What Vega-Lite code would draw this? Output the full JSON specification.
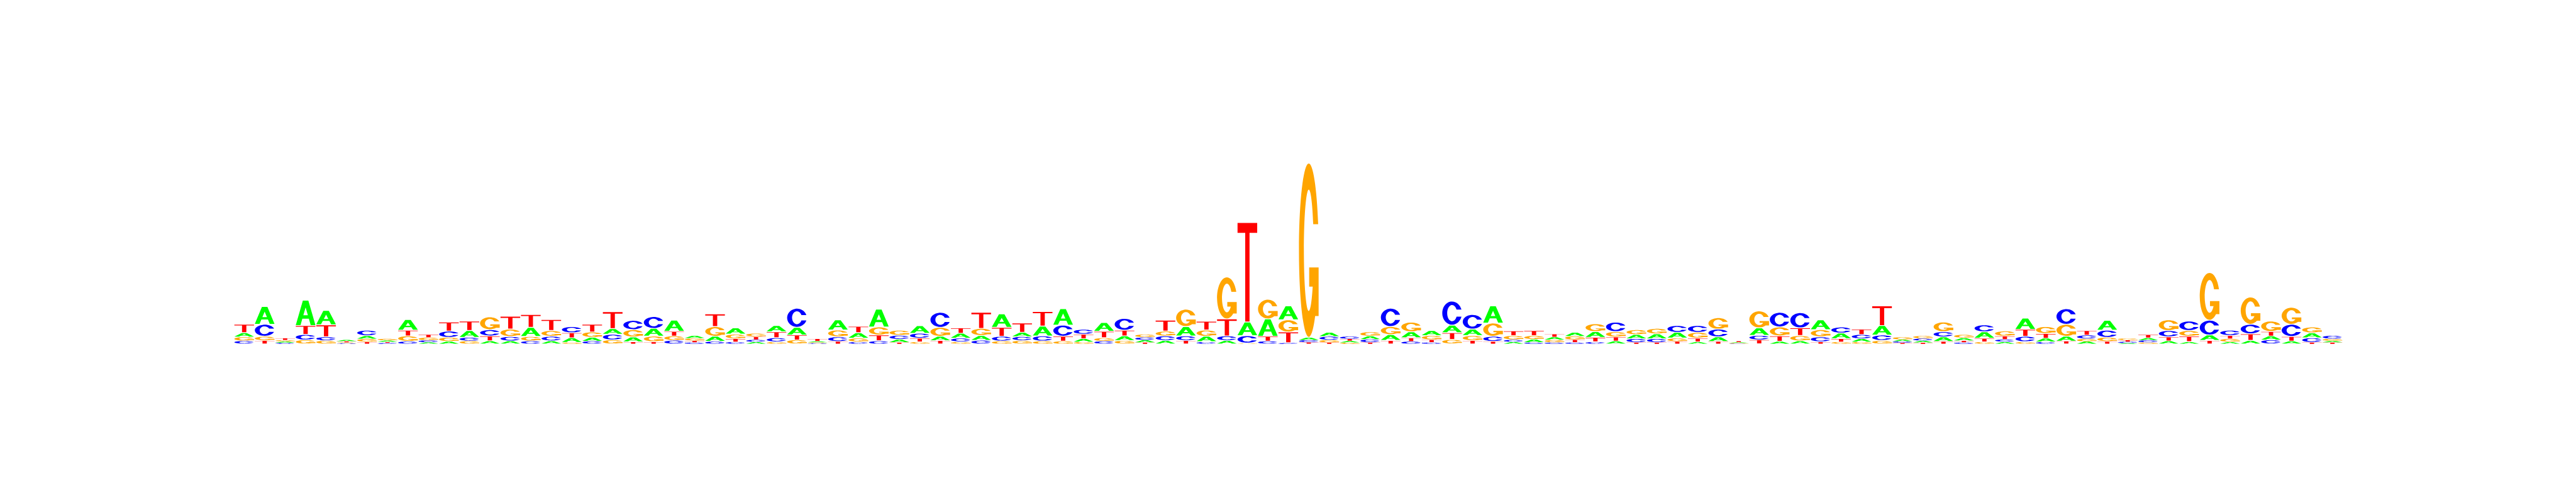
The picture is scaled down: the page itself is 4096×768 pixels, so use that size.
{
"$schema": "https://vega.github.io/schema/vega-lite/v6.json",
"width": 3353,
"height": 284,
"autosize": {"type": "none"},
"padding": {"left": 372, "top": 263, "right": 371, "bottom": 221},
"background": "white",
"config": {"view": {"stroke": null}},
"data": {"values": [
{"p":1,"b":"T","h":0.094},{"p":1,"b":"A","h":0.046},{"p":1,"b":"G","h":0.042},{"p":1,"b":"C","h":0.034},
{"p":2,"b":"A","h":0.2},{"p":2,"b":"C","h":0.134},{"p":2,"b":"G","h":0.046},{"p":2,"b":"T","h":0.036},
{"p":3,"b":"T","h":0.022},{"p":3,"b":"G","h":0.016},{"p":3,"b":"A","h":0.014},{"p":3,"b":"C","h":0.012},
{"p":4,"b":"A","h":0.284},{"p":4,"b":"T","h":0.1},{"p":4,"b":"C","h":0.06},{"p":4,"b":"G","h":0.042},
{"p":5,"b":"A","h":0.162},{"p":5,"b":"T","h":0.134},{"p":5,"b":"C","h":0.04},{"p":5,"b":"G","h":0.036},
{"p":6,"b":"A","h":0.016},{"p":6,"b":"T","h":0.012},{"p":6,"b":"G","h":0.01},{"p":6,"b":"C","h":0.008},
{"p":7,"b":"C","h":0.06},{"p":7,"b":"A","h":0.036},{"p":7,"b":"G","h":0.032},{"p":7,"b":"T","h":0.022},
{"p":8,"b":"G","h":0.02},{"p":8,"b":"A","h":0.016},{"p":8,"b":"T","h":0.012},{"p":8,"b":"C","h":0.01},
{"p":9,"b":"A","h":0.12},{"p":9,"b":"T","h":0.064},{"p":9,"b":"G","h":0.06},{"p":9,"b":"C","h":0.026},
{"p":10,"b":"T","h":0.034},{"p":10,"b":"G","h":0.03},{"p":10,"b":"C","h":0.022},{"p":10,"b":"A","h":0.018},
{"p":11,"b":"T","h":0.102},{"p":11,"b":"C","h":0.07},{"p":11,"b":"G","h":0.044},{"p":11,"b":"A","h":0.026},
{"p":12,"b":"T","h":0.106},{"p":12,"b":"A","h":0.076},{"p":12,"b":"C","h":0.038},{"p":12,"b":"G","h":0.032},
{"p":13,"b":"G","h":0.144},{"p":13,"b":"C","h":0.07},{"p":13,"b":"T","h":0.054},{"p":13,"b":"A","h":0.032},
{"p":14,"b":"T","h":0.144},{"p":14,"b":"G","h":0.082},{"p":14,"b":"C","h":0.048},{"p":14,"b":"A","h":0.032},
{"p":15,"b":"T","h":0.144},{"p":15,"b":"A","h":0.102},{"p":15,"b":"G","h":0.048},{"p":15,"b":"C","h":0.032},
{"p":16,"b":"T","h":0.124},{"p":16,"b":"G","h":0.064},{"p":16,"b":"C","h":0.05},{"p":16,"b":"A","h":0.032},
{"p":17,"b":"C","h":0.068},{"p":17,"b":"T","h":0.056},{"p":17,"b":"A","h":0.05},{"p":17,"b":"G","h":0.016},
{"p":18,"b":"T","h":0.086},{"p":18,"b":"G","h":0.06},{"p":18,"b":"A","h":0.04},{"p":18,"b":"C","h":0.03},
{"p":19,"b":"T","h":0.19},{"p":19,"b":"A","h":0.064},{"p":19,"b":"C","h":0.062},{"p":19,"b":"G","h":0.042},
{"p":20,"b":"C","h":0.104},{"p":20,"b":"G","h":0.082},{"p":20,"b":"A","h":0.052},{"p":20,"b":"T","h":0.022},
{"p":21,"b":"C","h":0.132},{"p":21,"b":"A","h":0.086},{"p":21,"b":"G","h":0.062},{"p":21,"b":"T","h":0.022},
{"p":22,"b":"A","h":0.124},{"p":22,"b":"T","h":0.052},{"p":22,"b":"G","h":0.048},{"p":22,"b":"C","h":0.038},
{"p":23,"b":"A","h":0.03},{"p":23,"b":"G","h":0.026},{"p":23,"b":"T","h":0.02},{"p":23,"b":"C","h":0.016},
{"p":24,"b":"T","h":0.142},{"p":24,"b":"G","h":0.108},{"p":24,"b":"A","h":0.056},{"p":24,"b":"C","h":0.026},
{"p":25,"b":"A","h":0.07},{"p":25,"b":"G","h":0.05},{"p":25,"b":"T","h":0.034},{"p":25,"b":"C","h":0.022},
{"p":26,"b":"G","h":0.036},{"p":26,"b":"T","h":0.034},{"p":26,"b":"C","h":0.024},{"p":26,"b":"A","h":0.022},
{"p":27,"b":"A","h":0.07},{"p":27,"b":"T","h":0.066},{"p":27,"b":"C","h":0.044},{"p":27,"b":"G","h":0.022},
{"p":28,"b":"C","h":0.214},{"p":28,"b":"A","h":0.086},{"p":28,"b":"T","h":0.054},{"p":28,"b":"G","h":0.042},
{"p":29,"b":"T","h":0.026},{"p":29,"b":"A","h":0.012},{"p":29,"b":"G","h":0.01},{"p":29,"b":"C","h":0.008},
{"p":30,"b":"A","h":0.114},{"p":30,"b":"G","h":0.076},{"p":30,"b":"C","h":0.05},{"p":30,"b":"T","h":0.026},
{"p":31,"b":"T","h":0.072},{"p":31,"b":"A","h":0.06},{"p":31,"b":"G","h":0.04},{"p":31,"b":"C","h":0.022},
{"p":32,"b":"A","h":0.2},{"p":32,"b":"G","h":0.09},{"p":32,"b":"T","h":0.064},{"p":32,"b":"C","h":0.032},
{"p":33,"b":"G","h":0.056},{"p":33,"b":"C","h":0.044},{"p":33,"b":"A","h":0.034},{"p":33,"b":"T","h":0.016},
{"p":34,"b":"A","h":0.084},{"p":34,"b":"C","h":0.054},{"p":34,"b":"T","h":0.04},{"p":34,"b":"G","h":0.022},
{"p":35,"b":"C","h":0.168},{"p":35,"b":"G","h":0.1},{"p":35,"b":"A","h":0.046},{"p":35,"b":"T","h":0.036},
{"p":36,"b":"T","h":0.06},{"p":36,"b":"A","h":0.054},{"p":36,"b":"C","h":0.04},{"p":36,"b":"G","h":0.022},
{"p":37,"b":"T","h":0.18},{"p":37,"b":"G","h":0.08},{"p":37,"b":"A","h":0.052},{"p":37,"b":"C","h":0.038},
{"p":38,"b":"A","h":0.15},{"p":38,"b":"T","h":0.1},{"p":38,"b":"C","h":0.052},{"p":38,"b":"G","h":0.03},
{"p":39,"b":"T","h":0.104},{"p":39,"b":"A","h":0.046},{"p":39,"b":"C","h":0.044},{"p":39,"b":"G","h":0.036},
{"p":40,"b":"T","h":0.164},{"p":40,"b":"A","h":0.11},{"p":40,"b":"C","h":0.056},{"p":40,"b":"G","h":0.03},
{"p":41,"b":"A","h":0.184},{"p":41,"b":"C","h":0.124},{"p":41,"b":"T","h":0.052},{"p":41,"b":"G","h":0.03},
{"p":42,"b":"C","h":0.054},{"p":42,"b":"T","h":0.05},{"p":42,"b":"A","h":0.034},{"p":42,"b":"G","h":0.022},
{"p":43,"b":"A","h":0.098},{"p":43,"b":"T","h":0.072},{"p":43,"b":"G","h":0.036},{"p":43,"b":"C","h":0.03},
{"p":44,"b":"C","h":0.132},{"p":44,"b":"T","h":0.064},{"p":44,"b":"A","h":0.05},{"p":44,"b":"G","h":0.036},
{"p":45,"b":"G","h":0.034},{"p":45,"b":"C","h":0.03},{"p":45,"b":"A","h":0.026},{"p":45,"b":"T","h":0.016},
{"p":46,"b":"T","h":0.122},{"p":46,"b":"G","h":0.054},{"p":46,"b":"C","h":0.05},{"p":46,"b":"A","h":0.036},
{"p":47,"b":"G","h":0.196},{"p":47,"b":"A","h":0.104},{"p":47,"b":"C","h":0.05},{"p":47,"b":"T","h":0.036},
{"p":48,"b":"T","h":0.098},{"p":48,"b":"G","h":0.07},{"p":48,"b":"A","h":0.06},{"p":48,"b":"C","h":0.022},
{"p":49,"b":"G","h":0.47},{"p":49,"b":"T","h":0.19},{"p":49,"b":"C","h":0.05},{"p":49,"b":"A","h":0.036},
{"p":50,"b":"T","h":1.114},{"p":50,"b":"A","h":0.154},{"p":50,"b":"C","h":0.082},{"p":50,"b":"G","h":0.006},
{"p":51,"b":"G","h":0.22},{"p":51,"b":"A","h":0.194},{"p":51,"b":"T","h":0.052},{"p":51,"b":"C","h":0.03},
{"p":52,"b":"A","h":0.156},{"p":52,"b":"G","h":0.136},{"p":52,"b":"T","h":0.12},{"p":52,"b":"C","h":0.01},
{"p":53,"b":"G","h":1.952},{"p":53,"b":"A","h":0.028},{"p":53,"b":"C","h":0.024},{"p":53,"b":"T","h":0.018},
{"p":54,"b":"A","h":0.044},{"p":54,"b":"C","h":0.04},{"p":54,"b":"G","h":0.026},{"p":54,"b":"T","h":0.016},
{"p":55,"b":"C","h":0.026},{"p":55,"b":"T","h":0.022},{"p":55,"b":"A","h":0.02},{"p":55,"b":"G","h":0.014},
{"p":56,"b":"G","h":0.046},{"p":56,"b":"A","h":0.036},{"p":56,"b":"C","h":0.034},{"p":56,"b":"T","h":0.016},
{"p":57,"b":"C","h":0.206},{"p":57,"b":"G","h":0.09},{"p":57,"b":"A","h":0.064},{"p":57,"b":"T","h":0.036},
{"p":58,"b":"G","h":0.108},{"p":58,"b":"A","h":0.066},{"p":58,"b":"T","h":0.04},{"p":58,"b":"C","h":0.026},
{"p":59,"b":"A","h":0.056},{"p":59,"b":"G","h":0.044},{"p":59,"b":"T","h":0.03},{"p":59,"b":"C","h":0.016},
{"p":60,"b":"C","h":0.27},{"p":60,"b":"A","h":0.084},{"p":60,"b":"T","h":0.076},{"p":60,"b":"G","h":0.046},
{"p":61,"b":"C","h":0.164},{"p":61,"b":"A","h":0.072},{"p":61,"b":"G","h":0.054},{"p":61,"b":"T","h":0.036},
{"p":62,"b":"A","h":0.192},{"p":62,"b":"G","h":0.148},{"p":62,"b":"C","h":0.056},{"p":62,"b":"T","h":0.026},
{"p":63,"b":"T","h":0.052},{"p":63,"b":"G","h":0.044},{"p":63,"b":"C","h":0.024},{"p":63,"b":"A","h":0.022},
{"p":64,"b":"T","h":0.056},{"p":64,"b":"G","h":0.04},{"p":64,"b":"A","h":0.034},{"p":64,"b":"C","h":0.016},
{"p":65,"b":"T","h":0.034},{"p":65,"b":"A","h":0.032},{"p":65,"b":"G","h":0.028},{"p":65,"b":"C","h":0.016},
{"p":66,"b":"A","h":0.042},{"p":66,"b":"G","h":0.038},{"p":66,"b":"T","h":0.03},{"p":66,"b":"C","h":0.016},
{"p":67,"b":"G","h":0.088},{"p":67,"b":"A","h":0.064},{"p":67,"b":"T","h":0.048},{"p":67,"b":"C","h":0.022},
{"p":68,"b":"C","h":0.106},{"p":68,"b":"G","h":0.058},{"p":68,"b":"T","h":0.046},{"p":68,"b":"A","h":0.03},
{"p":69,"b":"G","h":0.054},{"p":69,"b":"A","h":0.046},{"p":69,"b":"C","h":0.04},{"p":69,"b":"T","h":0.016},
{"p":70,"b":"G","h":0.06},{"p":70,"b":"A","h":0.054},{"p":70,"b":"C","h":0.04},{"p":70,"b":"T","h":0.016},
{"p":71,"b":"C","h":0.076},{"p":71,"b":"A","h":0.064},{"p":71,"b":"G","h":0.036},{"p":71,"b":"T","h":0.026},
{"p":72,"b":"C","h":0.076},{"p":72,"b":"G","h":0.064},{"p":72,"b":"T","h":0.04},{"p":72,"b":"A","h":0.022},
{"p":73,"b":"G","h":0.128},{"p":73,"b":"C","h":0.086},{"p":73,"b":"A","h":0.05},{"p":73,"b":"T","h":0.026},
{"p":74,"b":"T","h":0.012},{"p":74,"b":"A","h":0.01},{"p":74,"b":"G","h":0.006},{"p":74,"b":"C","h":0.004},
{"p":75,"b":"G","h":0.19},{"p":75,"b":"A","h":0.084},{"p":75,"b":"C","h":0.048},{"p":75,"b":"T","h":0.044},
{"p":76,"b":"C","h":0.164},{"p":76,"b":"G","h":0.1},{"p":76,"b":"T","h":0.06},{"p":76,"b":"A","h":0.026},
{"p":77,"b":"C","h":0.17},{"p":77,"b":"T","h":0.086},{"p":77,"b":"G","h":0.058},{"p":77,"b":"A","h":0.032},
{"p":78,"b":"A","h":0.11},{"p":78,"b":"G","h":0.08},{"p":78,"b":"C","h":0.054},{"p":78,"b":"T","h":0.022},
{"p":79,"b":"C","h":0.068},{"p":79,"b":"A","h":0.062},{"p":79,"b":"T","h":0.034},{"p":79,"b":"G","h":0.022},
{"p":80,"b":"T","h":0.06},{"p":80,"b":"C","h":0.046},{"p":80,"b":"A","h":0.034},{"p":80,"b":"G","h":0.022},
{"p":81,"b":"T","h":0.22},{"p":81,"b":"A","h":0.106},{"p":81,"b":"C","h":0.06},{"p":81,"b":"G","h":0.036},
{"p":82,"b":"G","h":0.028},{"p":82,"b":"A","h":0.02},{"p":82,"b":"C","h":0.016},{"p":82,"b":"T","h":0.012},
{"p":83,"b":"G","h":0.03},{"p":83,"b":"C","h":0.024},{"p":83,"b":"A","h":0.022},{"p":83,"b":"T","h":0.014},
{"p":84,"b":"G","h":0.108},{"p":84,"b":"C","h":0.058},{"p":84,"b":"A","h":0.05},{"p":84,"b":"T","h":0.026},
{"p":85,"b":"G","h":0.036},{"p":85,"b":"A","h":0.03},{"p":85,"b":"T","h":0.02},{"p":85,"b":"C","h":0.016},
{"p":86,"b":"C","h":0.078},{"p":86,"b":"A","h":0.072},{"p":86,"b":"T","h":0.038},{"p":86,"b":"G","h":0.022},
{"p":87,"b":"G","h":0.056},{"p":87,"b":"T","h":0.036},{"p":87,"b":"C","h":0.028},{"p":87,"b":"A","h":0.022},
{"p":88,"b":"A","h":0.126},{"p":88,"b":"T","h":0.078},{"p":88,"b":"C","h":0.06},{"p":88,"b":"G","h":0.022},
{"p":89,"b":"G","h":0.078},{"p":89,"b":"T","h":0.05},{"p":89,"b":"A","h":0.04},{"p":89,"b":"C","h":0.022},
{"p":90,"b":"C","h":0.174},{"p":90,"b":"G","h":0.134},{"p":90,"b":"A","h":0.052},{"p":90,"b":"T","h":0.03},
{"p":91,"b":"T","h":0.05},{"p":91,"b":"C","h":0.04},{"p":91,"b":"G","h":0.03},{"p":91,"b":"A","h":0.026},
{"p":92,"b":"A","h":0.11},{"p":92,"b":"C","h":0.08},{"p":92,"b":"G","h":0.044},{"p":92,"b":"T","h":0.026},
{"p":93,"b":"G","h":0.02},{"p":93,"b":"T","h":0.018},{"p":93,"b":"C","h":0.014},{"p":93,"b":"A","h":0.01},
{"p":94,"b":"T","h":0.036},{"p":94,"b":"A","h":0.026},{"p":94,"b":"C","h":0.024},{"p":94,"b":"G","h":0.016},
{"p":95,"b":"G","h":0.12},{"p":95,"b":"C","h":0.07},{"p":95,"b":"T","h":0.044},{"p":95,"b":"A","h":0.032},
{"p":96,"b":"C","h":0.106},{"p":96,"b":"G","h":0.064},{"p":96,"b":"T","h":0.06},{"p":96,"b":"A","h":0.022},
{"p":97,"b":"G","h":0.534},{"p":97,"b":"C","h":0.166},{"p":97,"b":"A","h":0.06},{"p":97,"b":"T","h":0.036},
{"p":98,"b":"C","h":0.058},{"p":98,"b":"T","h":0.036},{"p":98,"b":"G","h":0.034},{"p":98,"b":"A","h":0.022},
{"p":99,"b":"G","h":0.306},{"p":99,"b":"C","h":0.106},{"p":99,"b":"T","h":0.074},{"p":99,"b":"A","h":0.036},
{"p":100,"b":"G","h":0.116},{"p":100,"b":"T","h":0.05},{"p":100,"b":"A","h":0.044},{"p":100,"b":"C","h":0.042},
{"p":101,"b":"G","h":0.19},{"p":101,"b":"C","h":0.136},{"p":101,"b":"T","h":0.05},{"p":101,"b":"A","h":0.03},
{"p":102,"b":"G","h":0.066},{"p":102,"b":"A","h":0.054},{"p":102,"b":"C","h":0.05},{"p":102,"b":"T","h":0.016},
{"p":103,"b":"C","h":0.036},{"p":103,"b":"G","h":0.022},{"p":103,"b":"A","h":0.018},{"p":103,"b":"T","h":0.016}
]},
"transform": [
{"stack": "h", "groupby": ["p"], "sort": [{"field": "h", "order": "ascending"}], "as": ["y0", "y1"]}
],
"encoding": {
"x": {"field": "p", "type": "quantitative", "scale": {"domain": [0.5, 103.5], "nice": false, "zero": false}, "axis": null},
"y": {"field": "y1", "type": "quantitative", "scale": {"domain": [0, 2], "nice": false, "zero": false}, "axis": null}
},
"layer": [
{"transform": [{"filter": "datum.b == 'T'"}],
 "mark": {"type": "point", "filled": true, "opacity": 1, "color": "#FF0000",
  "size": {"expr": "4*pow(0.96*(scale('x',1)-scale('x',0)),2)"},
  "shape": {"expr": "'M-0.5,0H0.5V'+(0.1*(max(scale('y',datum.y0)-scale('y',datum.y1)-1.4,0.85*(scale('y',datum.y0)-scale('y',datum.y1)))/(0.96*(scale('x',1)-scale('x',0)))))+'H0.11V'+(max(scale('y',datum.y0)-scale('y',datum.y1)-1.4,0.85*(scale('y',datum.y0)-scale('y',datum.y1)))/(0.96*(scale('x',1)-scale('x',0))))+'H-0.11V'+(0.1*(max(scale('y',datum.y0)-scale('y',datum.y1)-1.4,0.85*(scale('y',datum.y0)-scale('y',datum.y1)))/(0.96*(scale('x',1)-scale('x',0)))))+'H-0.5Z'"}}},
{"transform": [{"filter": "datum.b == 'A'"}],
 "mark": {"type": "point", "filled": true, "opacity": 1, "color": "#00FF00",
  "size": {"expr": "4*pow(0.96*(scale('x',1)-scale('x',0)),2)"},
  "shape": {"expr": "'M-0.5,'+(max(scale('y',datum.y0)-scale('y',datum.y1)-1.4,0.85*(scale('y',datum.y0)-scale('y',datum.y1)))/(0.96*(scale('x',1)-scale('x',0))))+'L-0.14,0H0.14L0.5,'+(max(scale('y',datum.y0)-scale('y',datum.y1)-1.4,0.85*(scale('y',datum.y0)-scale('y',datum.y1)))/(0.96*(scale('x',1)-scale('x',0))))+'H0.26L0.166,'+(0.74*(max(scale('y',datum.y0)-scale('y',datum.y1)-1.4,0.85*(scale('y',datum.y0)-scale('y',datum.y1)))/(0.96*(scale('x',1)-scale('x',0)))))+'H-0.166L-0.26,'+(max(scale('y',datum.y0)-scale('y',datum.y1)-1.4,0.85*(scale('y',datum.y0)-scale('y',datum.y1)))/(0.96*(scale('x',1)-scale('x',0))))+'ZM-0.116,'+(0.6*(max(scale('y',datum.y0)-scale('y',datum.y1)-1.4,0.85*(scale('y',datum.y0)-scale('y',datum.y1)))/(0.96*(scale('x',1)-scale('x',0)))))+'H0.116L0,'+(0.278*(max(scale('y',datum.y0)-scale('y',datum.y1)-1.4,0.85*(scale('y',datum.y0)-scale('y',datum.y1)))/(0.96*(scale('x',1)-scale('x',0)))))+'Z'"}}},
{"transform": [{"filter": "datum.b == 'C'"}],
 "mark": {"type": "point", "filled": true, "opacity": 1, "color": "#0000FF",
  "size": {"expr": "4*pow(0.96*(scale('x',1)-scale('x',0)),2)"},
  "shape": {"expr": "'M0.477,'+(0.35*(max(scale('y',datum.y0)-scale('y',datum.y1)-1.4,0.85*(scale('y',datum.y0)-scale('y',datum.y1)))/(0.96*(scale('x',1)-scale('x',0)))))+'A0.5,'+(0.5*(max(scale('y',datum.y0)-scale('y',datum.y1)-1.4,0.85*(scale('y',datum.y0)-scale('y',datum.y1)))/(0.96*(scale('x',1)-scale('x',0)))))+',0,1,0,0.477,'+(0.65*(max(scale('y',datum.y0)-scale('y',datum.y1)-1.4,0.85*(scale('y',datum.y0)-scale('y',datum.y1)))/(0.96*(scale('x',1)-scale('x',0)))))+'L0.226,'+(0.65*(max(scale('y',datum.y0)-scale('y',datum.y1)-1.4,0.85*(scale('y',datum.y0)-scale('y',datum.y1)))/(0.96*(scale('x',1)-scale('x',0)))))+'A0.25,'+(0.35*(max(scale('y',datum.y0)-scale('y',datum.y1)-1.4,0.85*(scale('y',datum.y0)-scale('y',datum.y1)))/(0.96*(scale('x',1)-scale('x',0)))))+',0,1,1,0.226,'+(0.35*(max(scale('y',datum.y0)-scale('y',datum.y1)-1.4,0.85*(scale('y',datum.y0)-scale('y',datum.y1)))/(0.96*(scale('x',1)-scale('x',0)))))+'Z'"}}},
{"transform": [{"filter": "datum.b == 'G'"}],
 "mark": {"type": "point", "filled": true, "opacity": 1, "color": "#FFA500",
  "size": {"expr": "4*pow(0.96*(scale('x',1)-scale('x',0)),2)"},
  "shape": {"expr": "'M0.477,'+(0.35*(max(scale('y',datum.y0)-scale('y',datum.y1)-1.4,0.85*(scale('y',datum.y0)-scale('y',datum.y1)))/(0.96*(scale('x',1)-scale('x',0)))))+'A0.5,'+(0.5*(max(scale('y',datum.y0)-scale('y',datum.y1)-1.4,0.85*(scale('y',datum.y0)-scale('y',datum.y1)))/(0.96*(scale('x',1)-scale('x',0)))))+',0,1,0,0.49,'+(0.6*(max(scale('y',datum.y0)-scale('y',datum.y1)-1.4,0.85*(scale('y',datum.y0)-scale('y',datum.y1)))/(0.96*(scale('x',1)-scale('x',0)))))+'L0.24,'+(0.6*(max(scale('y',datum.y0)-scale('y',datum.y1)-1.4,0.85*(scale('y',datum.y0)-scale('y',datum.y1)))/(0.96*(scale('x',1)-scale('x',0)))))+'A0.25,'+(0.35*(max(scale('y',datum.y0)-scale('y',datum.y1)-1.4,0.85*(scale('y',datum.y0)-scale('y',datum.y1)))/(0.96*(scale('x',1)-scale('x',0)))))+',0,1,1,0.226,'+(0.35*(max(scale('y',datum.y0)-scale('y',datum.y1)-1.4,0.85*(scale('y',datum.y0)-scale('y',datum.y1)))/(0.96*(scale('x',1)-scale('x',0)))))+'ZM0.02,'+(0.6*(max(scale('y',datum.y0)-scale('y',datum.y1)-1.4,0.85*(scale('y',datum.y0)-scale('y',datum.y1)))/(0.96*(scale('x',1)-scale('x',0)))))+'V'+(0.71*(max(scale('y',datum.y0)-scale('y',datum.y1)-1.4,0.85*(scale('y',datum.y0)-scale('y',datum.y1)))/(0.96*(scale('x',1)-scale('x',0)))))+'H0.26V'+(0.88*(max(scale('y',datum.y0)-scale('y',datum.y1)-1.4,0.85*(scale('y',datum.y0)-scale('y',datum.y1)))/(0.96*(scale('x',1)-scale('x',0)))))+'H0.5V'+(0.6*(max(scale('y',datum.y0)-scale('y',datum.y1)-1.4,0.85*(scale('y',datum.y0)-scale('y',datum.y1)))/(0.96*(scale('x',1)-scale('x',0)))))+'Z'"}}}
]
}
